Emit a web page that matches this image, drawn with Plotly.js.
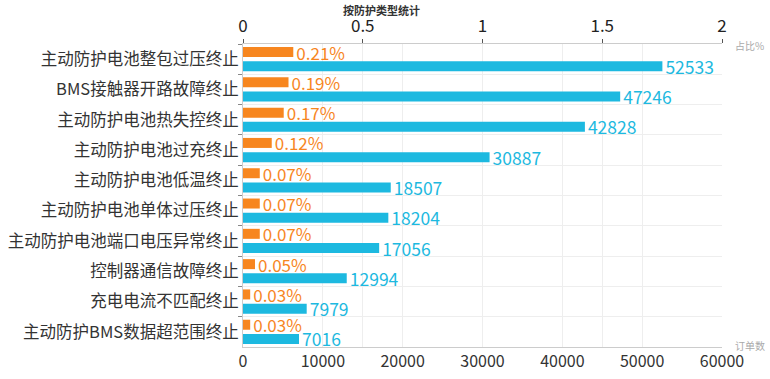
<!DOCTYPE html>
<html>
<head>
<meta charset="utf-8">
<script src="https://cdn.plot.ly/plotly-3.0.1.min.js"></script>
<style>html,body{margin:0;padding:0;background:#fff;}#chart{width:770px;height:379px;}</style>
</head>
<body>
<div id="chart"></div>
<script>
var categories = ["主动防护电池整包过压终止","BMS接触器开路故障终止","主动防护电池热失控终止","主动防护电池过充终止","主动防护电池低温终止","主动防护电池单体过压终止","主动防护电池端口电压异常终止","控制器通信故障终止","充电电流不匹配终止","主动防护BMS数据超范围终止"];
var ratioPct = [0.21, 0.19, 0.17, 0.12, 0.07, 0.07, 0.07, 0.05, 0.03, 0.03];
var orderCounts = [52533, 47246, 42828, 30887, 18507, 18204, 17056, 12994, 7979, 7016];
var ratioTicks = [0, 0.5, 1, 1.5, 2];
var countTicks = [0, 10000, 20000, 30000, 40000, 50000, 60000];

var FONT = '"Noto Sans CJK SC", "Microsoft YaHei", sans-serif';
var ORANGE = '#F7861F';
var BLUE = '#1DB9E0';

var traces = [
  {
    type: 'bar', orientation: 'h', name: '占比%',
    x: ratioPct, y: categories, xaxis: 'x2', yaxis: 'y',
    width: 0.33, offset: -0.4,
    marker: {color: ORANGE},
    text: ratioPct.map(function(v){return v.toFixed(2) + '%';}),
    textposition: 'outside', textfont: {size: 17, color: ORANGE, family: FONT},
    cliponaxis: false, constraintext: 'none', hoverinfo: 'x+y'
  },
  {
    type: 'bar', orientation: 'h', name: '订单数',
    x: orderCounts, y: categories, xaxis: 'x', yaxis: 'y',
    width: 0.33, offset: 0.07,
    marker: {color: BLUE},
    text: orderCounts.map(function(v){return String(v);}),
    textposition: 'outside', textfont: {size: 17.5, color: BLUE, family: FONT},
    cliponaxis: false, constraintext: 'none', hoverinfo: 'x+y'
  }
];

var layout = {
  width: 770, height: 379,
  margin: {l: 243, r: 48, t: 44, b: 32, pad: 0},
  paper_bgcolor: '#fff', plot_bgcolor: '#fff',
  showlegend: false,
  font: {family: FONT, color: '#333'},
  xaxis: {
    range: [0, 60000], tickvals: countTicks, ticktext: countTicks.map(String),
    showgrid: true, gridcolor: '#eeeeee', gridwidth: 1,
    zeroline: false, showline: true, linecolor: '#cccccc', linewidth: 1,
    ticks: '', tickfont: {size: 16, color: '#333', family: FONT}, fixedrange: true
  },
  xaxis2: {
    overlaying: 'x', side: 'top', anchor: 'y',
    range: [0, 2], tickvals: ratioTicks, ticktext: ratioTicks.map(String),
    showgrid: true, gridcolor: '#eeeeee', gridwidth: 1,
    zeroline: false, showline: true, linecolor: '#cccccc', linewidth: 1,
    ticks: 'outside', ticklen: 4, tickcolor: '#555',
    tickfont: {size: 17, color: '#222', family: FONT}, fixedrange: true
  },
  yaxis: {
    type: 'category', autorange: 'reversed', categoryorder: 'array', categoryarray: categories,
    tickson: 'boundaries', ticks: 'outside', ticklen: 4, tickcolor: '#888',
    showgrid: true, gridcolor: '#eeeeee', gridwidth: 1,
    showline: true, linecolor: '#cccccc', linewidth: 1,
    tickfont: {size: 16.5, color: '#333', family: FONT}, fixedrange: true
  },
  annotations: [
    {text: '按防护类型统计', xref: 'paper', yref: 'paper', x: (381 - 243) / 479, y: 1, yshift: 34,
     xanchor: 'center', yanchor: 'middle', showarrow: false,
     font: {size: 11, color: '#333', family: FONT, weight: 'bold'}},
    {text: '占比%', xref: 'paper', yref: 'paper', x: 1, xshift: 11, y: 1, yshift: -1,
     xanchor: 'left', yanchor: 'middle', showarrow: false,
     font: {size: 10, color: '#aaaaaa', family: FONT}},
    {text: '订单数', xref: 'paper', yref: 'paper', x: 1, xshift: 11, y: 0, yshift: 2,
     xanchor: 'left', yanchor: 'middle', showarrow: false,
     font: {size: 10, color: '#aaaaaa', family: FONT}}
  ]
};

Plotly.newPlot('chart', traces, layout, {displayModeBar: false, staticPlot: true});
</script>
</body>
</html>
